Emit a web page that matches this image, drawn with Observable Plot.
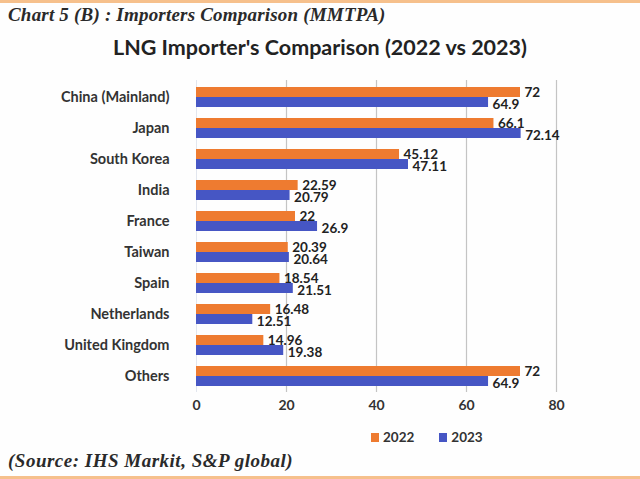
<!DOCTYPE html>
<html>
<head>
<meta charset="utf-8">
<script src="https://cdn.jsdelivr.net/npm/d3@7"></script>
<script src="https://cdn.jsdelivr.net/npm/@observablehq/plot@0.6"></script>
<style>
  html, body { margin: 0; padding: 0; }
  body { width: 640px; height: 479px; position: relative; overflow: hidden; background: #fefefe; font-family: Lato, "Open Sans", sans-serif; }
  .topline { position: absolute; left: 0; top: 0; width: 640px; height: 3px; background: #f6c08c; }
  .botline { position: absolute; left: 0; top: 476px; width: 640px; height: 3px; background: #f6c08c; }
  .title { position: absolute; left: 8px; top: 4px; font-family: "Liberation Serif", serif; font-weight: bold; font-style: italic; font-size: 19px; letter-spacing: 0.2px; color: #2a2a2a; white-space: nowrap; }
  .subtitle { position: absolute; left: 0; width: 640px; top: 34px; text-align: center; font-family: Lato, sans-serif; font-weight: bold; font-size: 21.5px; color: #222; white-space: nowrap; }
  #chart { position: absolute; left: 0; top: 70px; }
  .legend { position: absolute; left: 371px; top: 429px; font-family: Lato, sans-serif; font-weight: bold; font-size: 13.5px; color: #333; display: flex; align-items: center; }
  .legend span.sw { display: inline-block; width: 8px; height: 9px; margin-right: 4px; }
  .legend span.lab { margin-right: 25px; }
  .source { position: absolute; left: 8px; top: 450px; font-family: "Liberation Serif", serif; font-weight: bold; font-style: italic; font-size: 19px; letter-spacing: 0.5px; color: #2a2a2a; white-space: nowrap; }
</style>
</head>
<body>
<div class="topline"></div>
<div class="title">Chart 5 (B) : Importers Comparison (MMTPA)</div>
<div class="subtitle">LNG Importer's Comparison (2022 vs 2023)</div>
<div id="chart"></div>
<div class="legend">
  <span class="sw" style="background:#ee7b30"></span><span class="lab">2022</span>
  <span class="sw" style="background:#4656c4"></span><span>2023</span>
</div>
<div class="source">(Source: IHS Markit, S&amp;P global)</div>
<div class="botline"></div>
<script>
const countries = ["China (Mainland)", "Japan", "South Korea", "India", "France", "Taiwan", "Spain", "Netherlands", "United Kingdom", "Others"];
const values2022 = [72, 66.1, 45.12, 22.59, 22, 20.39, 18.54, 16.48, 14.96, 72];
const values2023 = [64.9, 72.14, 47.11, 20.79, 26.9, 20.64, 21.51, 12.51, 19.38, 64.9];
const xTicks = [0, 20, 40, 60, 80];
const colors = {"2022": "#ee7b30", "2023": "#4656c4"};

const d22 = countries.map((c, i) => ({country: c, value: values2022[i]}));
const d23 = countries.map((c, i) => ({country: c, value: values2023[i]}));

const chart = Plot.plot({
  width: 640,
  height: 350,
  marginTop: 10,
  marginBottom: 28,
  marginLeft: 196,
  marginRight: 84,
  style: {fontFamily: "Lato, sans-serif", fontSize: "13.5px", fontWeight: "bold", color: "#333", background: "transparent"},
  x: {domain: [0, 80], ticks: xTicks, grid: false, label: null},
  y: {domain: countries, paddingInner: 0.355, paddingOuter: 0.19, label: null},
  marks: [
    Plot.ruleX(xTicks.filter(t => t > 0), {stroke: "#c4c4c4", strokeWidth: 1.2}),
    Plot.ruleX([0], {stroke: "#e2e6ee", strokeWidth: 1}),
    Plot.barX(d22, {x: "value", y: "country", fill: colors["2022"], insetBottom: 10}),
    Plot.barX(d23, {x: "value", y: "country", fill: colors["2023"], insetTop: 10}),
    Plot.text(d22, {x: "value", y: "country", text: d => String(d.value), textAnchor: "start", dx: 4, dy: -4.5, fill: "#222", fontSize: 13.5, fontWeight: "bold"}),
    Plot.text(d23, {x: "value", y: "country", text: d => String(d.value), textAnchor: "start", dx: 4, dy: 7, fill: "#222", fontSize: 13.5, fontWeight: "bold"}),
    Plot.axisX({ticks: xTicks, tickSize: 0, tickPadding: 8, tickFormat: d => String(d), fontSize: 14, fontWeight: "bold", fill: "#333", label: null}),
    Plot.axisY({tickSize: 0, tickPadding: 27, fontSize: 14.5, fontWeight: "bold", fill: "#333", label: null})
  ]
});
document.getElementById("chart").appendChild(chart);
</script>
</body>
</html>
